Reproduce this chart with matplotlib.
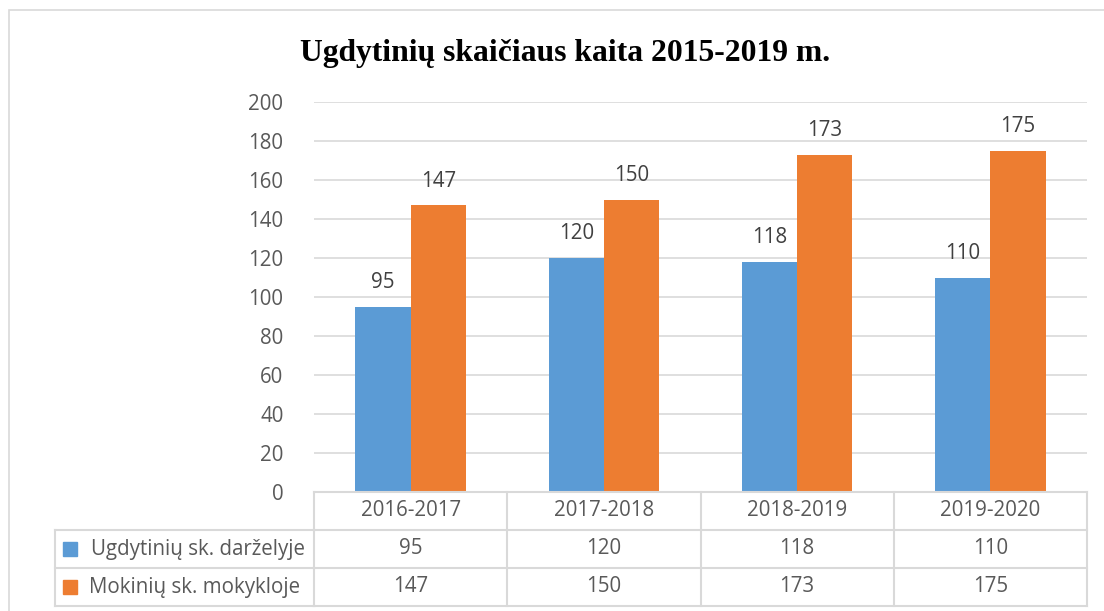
import matplotlib
matplotlib.use('Agg')
from matplotlib import pyplot as plt
from matplotlib.patches import Rectangle
import matplotlib.transforms as mtransforms

# chart data
years = ['2016-2017', '2017-2018', '2018-2019', '2019-2020']
series_names = ['Ugdytinių sk. darželyje', 'Mokinių sk. mokykloje']
darzelis = [95, 120, 118, 110]
mokykla = [147, 150, 173, 175]
colors = ['#5B9BD5', '#ED7D31']
title = 'Ugdytinių skaičiaus kaita 2015-2019 m.'

W, H = 1104, 611
fig = plt.figure(figsize=(W / 100, H / 100), dpi=100)
txt = '#595959'
line_col = '#D9D9D9'
fs = 14.8


def fx(px):
    return px / W


def fy(py):
    return 1 - py / H


# outer chart border (cut off at right/bottom like the screenshot)
fig.add_artist(Rectangle((fx(9), fy(640)), fx(1120) - fx(9), fy(10) - fy(640),
                         transform=fig.transFigure, fill=False,
                         edgecolor=line_col, linewidth=1.2))

ax = fig.add_axes([fx(314), fy(492), fx(1087) - fx(314), fy(102) - fy(492)])

x = list(range(len(years)))
w = 0.286
b1 = ax.bar([i - w / 2 for i in x], darzelis, w, color=colors[0], zorder=3)
b2 = ax.bar([i + w / 2 for i in x], mokykla, w, color=colors[1], zorder=3)

for bars, vals in [(b1, darzelis), (b2, mokykla)]:
    for b, v in zip(bars, vals):
        ax.text(b.get_x() + b.get_width() / 2, v + 7, str(v), ha='center',
                va='bottom', fontsize=fs, color='#404040',
                family='Open Sans')

ax.set_xlim(-0.5, len(years) - 0.5)
ax.set_ylim(0, 200)
ax.set_yticks(range(0, 201, 20))
ax.set_yticklabels([str(v) for v in range(0, 201, 20)], fontsize=fs,
                   color=txt, family='Open Sans')
ax.tick_params(axis='y', length=0, pad=22)
ax.set_xticks([])
ax.grid(axis='y', color=line_col, linewidth=1.2, zorder=0)
for s in ax.spines.values():
    s.set_visible(False)

# data table under the chart
trans = mtransforms.blended_transform_factory(ax.transData, fig.transFigure)
row_y = [fy(492), fy(530), fy(568), fy(606)]
col_x = [i - 0.5 for i in range(len(years) + 1)]
lw = 1.5

for yy in row_y:
    fig.add_artist(plt.Line2D([col_x[0], col_x[-1]], [yy, yy], transform=trans,
                              color=line_col, linewidth=lw))
for xx in col_x:
    fig.add_artist(plt.Line2D([xx, xx], [row_y[0], row_y[-1]], transform=trans,
                              color=line_col, linewidth=lw))
# label column box
for yy in row_y[1:]:
    fig.add_artist(plt.Line2D([fx(55), fx(314)], [yy, yy],
                              transform=fig.transFigure, color=line_col,
                              linewidth=lw))
fig.add_artist(plt.Line2D([fx(55), fx(55)], [row_y[1], row_y[-1]],
                          transform=fig.transFigure, color=line_col,
                          linewidth=lw))

for i, yr in enumerate(years):
    fig.text(i, (row_y[0] + row_y[1]) / 2, yr, transform=trans, ha='center',
             va='center', fontsize=fs, color=txt, family='Open Sans')

label_right = [305, 300]
for r, vals in enumerate([darzelis, mokykla]):
    yc = (row_y[r + 1] + row_y[r + 2]) / 2
    for i, v in enumerate(vals):
        fig.text(i, yc, str(v), transform=trans, ha='center', va='center',
                 fontsize=fs, color=txt, family='Open Sans')
    fig.add_artist(Rectangle((fx(63), yc - 7 / H), 14 / W, 14 / H,
                             transform=fig.transFigure, color=colors[r]))
    fig.text(fx(label_right[r]), yc, series_names[r], ha='right', va='center',
             fontsize=fs, color=txt, family='Open Sans')

fig.text(fx(565), fy(53), title, ha='center', va='center', fontsize=22.8,
         fontweight='bold', family='Liberation Serif', color='black')

plt.savefig('out.png', dpi=100)
